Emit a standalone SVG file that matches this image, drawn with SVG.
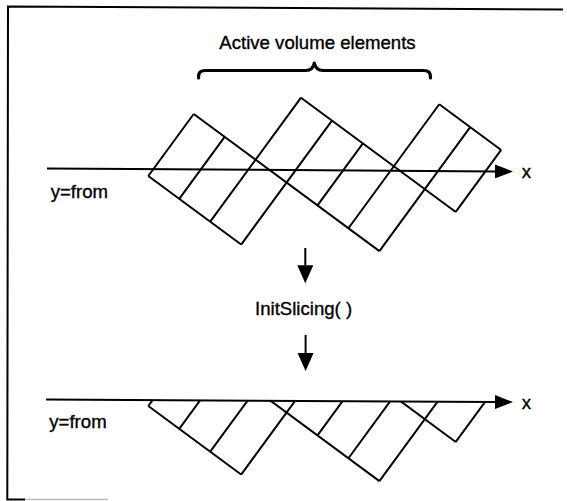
<svg xmlns="http://www.w3.org/2000/svg" xmlns:xlink="http://www.w3.org/1999/xlink" width="567" height="501" viewBox="0 0 567 501">
  <style>
    .ln { fill: none; stroke: #000; stroke-width: 2; stroke-linecap: butt; stroke-linejoin: miter; }
    .brace { fill: none; stroke: #000; stroke-width: 3.2; stroke-linecap: round; stroke-linejoin: round; }
    .frame { fill: none; stroke: #000; stroke-width: 2; }
    .lbl { font-family: "Liberation Sans", Arial, Helvetica, sans-serif; font-size: 18.6px; fill: #000; stroke: #000; stroke-width: 0.35; }
  </style>
  <defs>
    <marker id="head" markerUnits="userSpaceOnUse" markerWidth="18" markerHeight="16" refX="0" refY="8" orient="auto" viewBox="0 0 18 16">
      <path d="M0,0 L18,8 L0,16 Z" fill="#000"/>
    </marker>
    <marker id="axhead" markerUnits="userSpaceOnUse" markerWidth="18" markerHeight="14" refX="0" refY="7" orient="auto" viewBox="0 0 18 14">
      <path d="M0,0 L18,7 L0,14 Z" fill="#000"/>
    </marker>
    <path id="slabs" class="ln" d="
      M148.3,176 L241.15,244.55
      M193.7,114 L379.4,251.1
      M301.0,97.7 L455.75,211.95
      M439.25,104.25 L501.15,149.95
      M148.3,176 L193.7,114
      M179.25,198.85 L224.65,136.85
      M210.2,221.7 L301.0,97.7
      M241.15,244.55 L331.95,120.55
      M317.5,205.4 L362.9,143.4
      M348.45,228.25 L439.25,104.25
      M379.4,251.1 L470.2,127.1
      M455.75,211.95 L501.15,149.95"/>
    <clipPath id="below" clipPathUnits="userSpaceOnUse">
      <polygon points="0,399.2 567,402.4 567,501 0,501"/>
    </clipPath>
  </defs>

  <g id="frame">
    <path class="frame" d="M563,9.5 L8,6.5 L7.3,499.5 L25,499.5"/>
    <path d="M25,499.5 L108,499.5" fill="none" stroke="#bbb" stroke-width="1.5"/>
  </g>

  <g id="title">
    <text class="lbl" x="219.3" y="49.3">Active volume elements</text>
    <path class="brace" d="M198.5,78 C198.5,72.5 200,70.5 206,70.5 L306,70.5 C311,70.5 313.3,68 314.3,63 C315.3,68 317.8,70.5 323,70.5 L423,70.5 C429,70.5 430.5,72.5 430.5,78"/>
  </g>

  <g id="top-figure">
    <use xlink:href="#slabs" href="#slabs"/>
    <line class="ln" x1="47" y1="168.4" x2="495" y2="171.4" marker-end="url(#axhead)"/>
    <text class="lbl" x="521.7" y="178.3">x</text>
    <text class="lbl" x="50.7" y="198.3">y=from</text>
  </g>

  <g id="init-slicing">
    <text class="lbl" x="255" y="314.5">InitSlicing( )</text>
  </g>

  <g id="bottom-figure">
    <g clip-path="url(#below)">
      <use xlink:href="#slabs" href="#slabs" transform="translate(0,230)"/>
    </g>
    <line class="ln" x1="46" y1="399.5" x2="495" y2="402" marker-end="url(#axhead)"/>
    <text class="lbl" x="521.7" y="408.8">x</text>
    <text class="lbl" x="49.3" y="428.3">y=from</text>
  </g>

  <g id="connectors">
    <line class="ln" x1="305.3" y1="248" x2="305.3" y2="265.3" marker-end="url(#head)"/>
    <line class="ln" x1="305.6" y1="335" x2="305.6" y2="353" marker-end="url(#head)"/>
  </g>
</svg>
